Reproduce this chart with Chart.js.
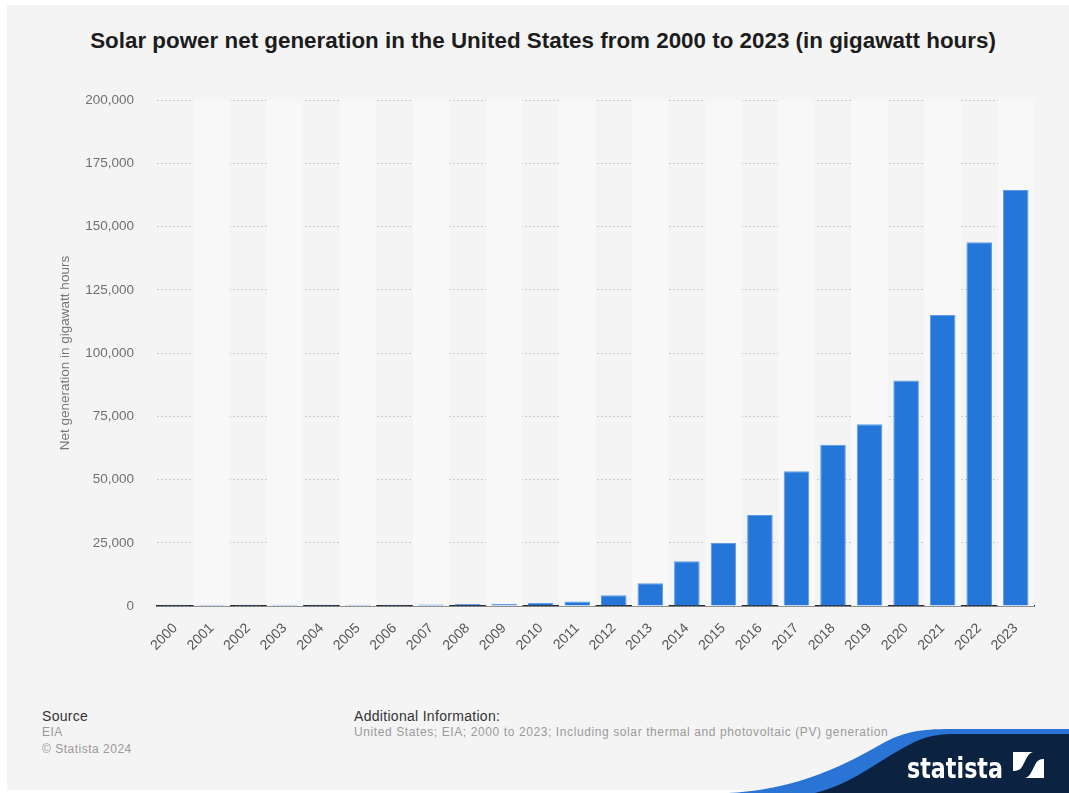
<!DOCTYPE html>
<html>
<head>
<meta charset="utf-8">
<script src="https://cdn.jsdelivr.net/npm/chart.js@4.4.1/dist/chart.umd.min.js"></script>
<style>
  html, body { margin: 0; padding: 0; background: #ffffff; }
  body { width: 1069px; height: 793px; position: relative; overflow: hidden;
         font-family: "Liberation Sans", Arial, sans-serif; }
  #panel { position: absolute; left: 7px; top: 5px; width: 1062px; height: 785px; background: #f4f4f4; }
  #title { position: absolute; left: 0; top: 28px; width: 1086px; text-align: center;
           font-size: 22.4px; font-weight: bold; color: #1c1c1c; }
  #chartBox { position: absolute; left: 0; top: 80px; width: 1069px; height: 600px; }
  .foot { position: absolute; font-size: 14px; color: #333; letter-spacing: 0.3px; }
  .foot .sub { font-size: 12px; color: #9a9a9a; line-height: 17px; letter-spacing: 0.5px; }
  #logo { position: absolute; left: 0; top: 0; }
</style>
</head>
<body>
<div id="panel"></div>
<div id="title">Solar power net generation in the United States from 2000 to 2023 (in gigawatt hours)</div>
<div id="chartBox"><canvas id="chart"></canvas></div>

<div class="foot" style="left:42px; top:708px;">
  <div>Source</div>
  <div class="sub">EIA</div>
  <div class="sub">© Statista 2024</div>
</div>
<div class="foot" style="left:354px; top:708px;">
  <div>Additional Information:</div>
  <div class="sub" style="letter-spacing:0.6px;">United States; EIA; 2000 to 2023; Including solar thermal and photovoltaic (PV) generation</div>
</div>

<svg id="logo" width="1069" height="793">
  <path d="M 728,793 C 800,790 850,762 885,742 C 905,732 920,729 950,729 L 1069,729 L 1069,793 Z" fill="#2a74d6"/>
  <path d="M 815,793 C 850,785 880,760 905,747 C 920,739 930,734 955,734 L 1069,734 L 1069,793 Z" fill="#0b2340"/>
  <text x="907" y="778" fill="#ffffff" font-family="DejaVu Sans" font-weight="bold" font-size="28"
        textLength="96" lengthAdjust="spacingAndGlyphs">statista</text>
  <rect x="1013" y="752" width="31" height="26" fill="#ffffff"/>
  <path d="M 1013,778 L 1024,778 C 1030,778 1032,770 1035,765 C 1037,761 1039,759 1044,759 L 1044,752 L 1034,752 C 1028,752 1026,760 1023,765 C 1021,769 1019,771 1013,771 Z" fill="#0b2340"/>
</svg>

<script>
// yearly net generation, GWh
const years = ["2000", "2001", "2002", "2003", "2004", "2005", "2006", "2007",
  "2008", "2009", "2010", "2011", "2012", "2013", "2014", "2015",
  "2016", "2017", "2018", "2019", "2020", "2021", "2022", "2023"];
const generation = [490, 540, 560, 530, 580, 550, 510, 610,
  860, 900, 1200, 1800, 4300, 9000, 17700, 24900,
  36000, 53300, 63800, 71900, 89200, 115000, 143800, 164400];
const yTicks = [0, 25000, 50000, 75000, 100000, 125000, 150000, 175000, 200000];

// alternating column shading behind the bars
const stripes = {
  id: "stripes",
  beforeDatasetsDraw(chart) {
    const { ctx, chartArea, scales } = chart;
    const x = scales.x;
    const half = (chartArea.right - chartArea.left) / years.length / 2;
    ctx.save();
    ctx.fillStyle = "#f8f8f8";
    years.forEach((y, i) => {
      if (i % 2 === 1) {
        const cx = x.getPixelForValue(i);
        ctx.fillRect(cx - half, chartArea.top, half * 2, chartArea.bottom - chartArea.top);
      }
    });
    ctx.restore();
  },
};

const ctx = document.getElementById("chart").getContext("2d");
const myChart = new Chart(ctx, {
  type: "bar",
  data: {
    labels: years,
    datasets: [
      {
        label: "Net generation",
        data: generation,
        backgroundColor: "#2476d9",
        borderColor: "#5e9ae6",
        borderWidth: 1,
        barPercentage: 0.7,
        categoryPercentage: 1,
      },
    ],
  },
  options: {
    responsive: true,
    maintainAspectRatio: false,
    animation: false,
    layout: { padding: { left: 57, right: 35, top: 20, bottom: 20 } },
    plugins: {
      legend: { display: false },
      tooltip: { enabled: false },
    },
    scales: {
      x: {
        grid: { display: false },
        border: { display: true, color: "#2b2b2b", width: 1.5 },
        ticks: {
          color: "#555",
          font: { family: "Liberation Sans", size: 14 },
          maxRotation: 45,
          minRotation: 45,
          padding: 6,
        },
        // rotated year labels may hang past the plot edge
        afterFit(axis) {
          axis.paddingLeft = 0;
          axis.paddingRight = 0;
        },
      },
      y: {
        min: 0,
        max: 200000,
        afterBuildTicks(axis) {
          axis.ticks = yTicks.map((v) => ({ value: v }));
        },
        grid: { color: "#c9c9c9", drawTicks: true, tickLength: 20, tickColor: "rgba(0,0,0,0)", lineWidth: 1 },
        border: { display: false, dash: [2, 2] },
        ticks: {
          color: "#707070",
          font: { family: "Liberation Sans", size: 13.5 },
          padding: 3,
          callback: (v) => v.toLocaleString("en-US"),
        },
        title: {
          display: true,
          text: "Net generation in gigawatt hours",
          color: "#777",
          font: { family: "Liberation Sans", size: 13.5 },
          padding: { top: 0, bottom: 9 },
        },
      },
    },
  },
  plugins: [stripes],
});
</script>
</body>
</html>
